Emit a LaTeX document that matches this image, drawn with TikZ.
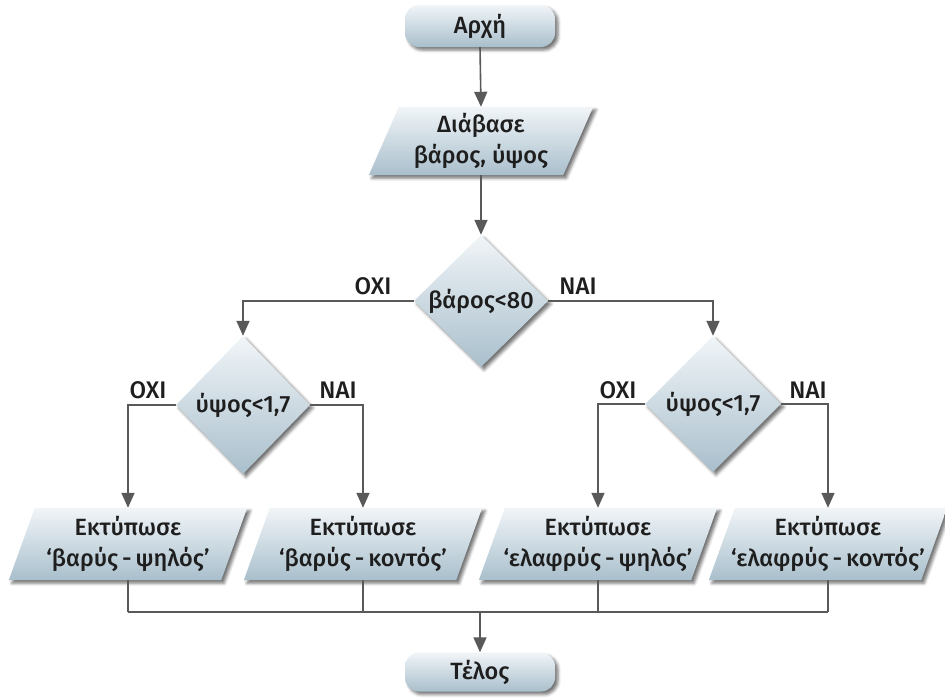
\documentclass[tikz,border=0pt]{standalone}
\usepackage{fontspec}
\setmainfont{Fira Sans}[UprightFont={* Medium},BoldFont={* SemiBold}]
\usetikzlibrary{arrows.meta,shapes.geometric,shadows.blur}
\pgfdeclarelayer{background}
\pgfsetlayers{background,main}
\definecolor{shtop}{HTML}{F1F5F8}
\definecolor{shbot}{HTML}{A9BFCC}
\definecolor{lc}{HTML}{595959}
\definecolor{tc}{HTML}{1E1E1E}
\tikzset{
  txt/.style={font=\fontsize{23.5}{31}\selectfont, text=tc, align=center},
  fillshade/.style={top color=shtop, bottom color=shbot,
    blur shadow={shadow xshift=3pt, shadow yshift=-3pt, shadow blur radius=3pt, shadow opacity=55}},
  conn/.style={draw=lc, line width=1.6pt},
  arr/.style={conn, -{Triangle[length=15pt,width=13pt]}},
  term/.style={txt, rectangle, rounded corners=14pt, minimum width=150pt, minimum height=42pt, inner sep=0pt, fillshade},
  dec/.style={txt, diamond, inner sep=0pt, fillshade},
  iobox/.style={txt, rectangle, inner sep=0pt},
  lbl/.style={font=\fontsize{24}{28}\selectfont, text=tc, anchor=base},
}
\newcommand\drawpara[2]{%
  \path[fillshade] ([xshift=-#2]#1.south west) -- ([xshift=-#2]#1.south east)
    -- ([xshift=#2]#1.north east) -- ([xshift=#2]#1.north west) -- cycle;}
\newcommand\dsh{\,-\,}
\begin{document}
\begin{tikzpicture}[x=1pt,y=-1pt]
\useasboundingbox (0,0) rectangle (945,699);
% nodes
\node[term] (start) at (480,26) {Αρχή};
\node[iobox, minimum width=194pt, minimum height=68pt] (read) at (481,141) {Διάβασε\\βάρος, ύψος};
\node[dec, minimum width=134pt, minimum height=132pt] (d1) at (481,301) {\makebox[0pt]{βάρος<80}};
\node[dec, minimum width=134pt, minimum height=138pt] (d2) at (243,405) {\makebox[0pt]{ύψος<1,7}};
\node[dec, minimum width=136pt, minimum height=136pt] (d3) at (713,404) {\makebox[0pt]{ύψος<1,7}};
\node[iobox, minimum width=212pt, minimum height=72pt] (p1) at (128,544) {Εκτύπωσε\\‘βαρύς\dsh ψηλός’};
\node[iobox, minimum width=212pt, minimum height=72pt] (p2) at (363,544) {Εκτύπωσε\\‘βαρύς\dsh κοντός’};
\node[iobox, minimum width=212pt, minimum height=72pt] (p3) at (598,544) {Εκτύπωσε\\‘ελαφρύς\dsh ψηλός’};
\node[iobox, minimum width=212pt, minimum height=72pt] (p4) at (828,544) {Εκτύπωσε\\‘ελαφρύς\dsh κοντός’};
\node[term, minimum height=39pt] (end) at (480,672) {Τέλος};
% parallelogram bodies
\begin{pgfonlayer}{background}
  \drawpara{read}{15pt}
  \drawpara{p1}{13pt}
  \drawpara{p2}{13pt}
  \drawpara{p3}{13pt}
  \drawpara{p4}{13pt}
\end{pgfonlayer}
% labels
\node[lbl] (l1) at (373,294) {ΟΧΙ};
\node[lbl] (l2) at (578,294) {ΝΑΙ};
\node[lbl] (l3) at (148,398) {ΟΧΙ};
\node[lbl] (l4) at (338,398) {ΝΑΙ};
\node[lbl] (l5) at (618,398) {ΟΧΙ};
\node[lbl] (l6) at (808,398) {ΝΑΙ};
% connectors
\draw[arr] (start.south) -- (read.north);
\draw[arr] (read.south) -- (d1.north);
\draw[arr] (d1.west) -| (d2.north);
\draw[arr] (d1.east) -| (d3.north);
\draw[arr] (d2.west) -| (p1.north);
\draw[arr] (d2.east) -| (p2.north);
\draw[arr] (d3.west) -| (p3.north);
\draw[arr] (d3.east) -| (p4.north);
\coordinate (jm) at (480,612);
\draw[conn] (p1.south) -- (p1.south |- jm);
\draw[conn] (p2.south) -- (p2.south |- jm);
\draw[conn] (p3.south) -- (p3.south |- jm);
\draw[conn] (p4.south) -- (p4.south |- jm);
\draw[conn] (p1.south |- jm) -- (p4.south |- jm);
\draw[arr] (jm) -- (end.north);
\end{tikzpicture}
\end{document}
